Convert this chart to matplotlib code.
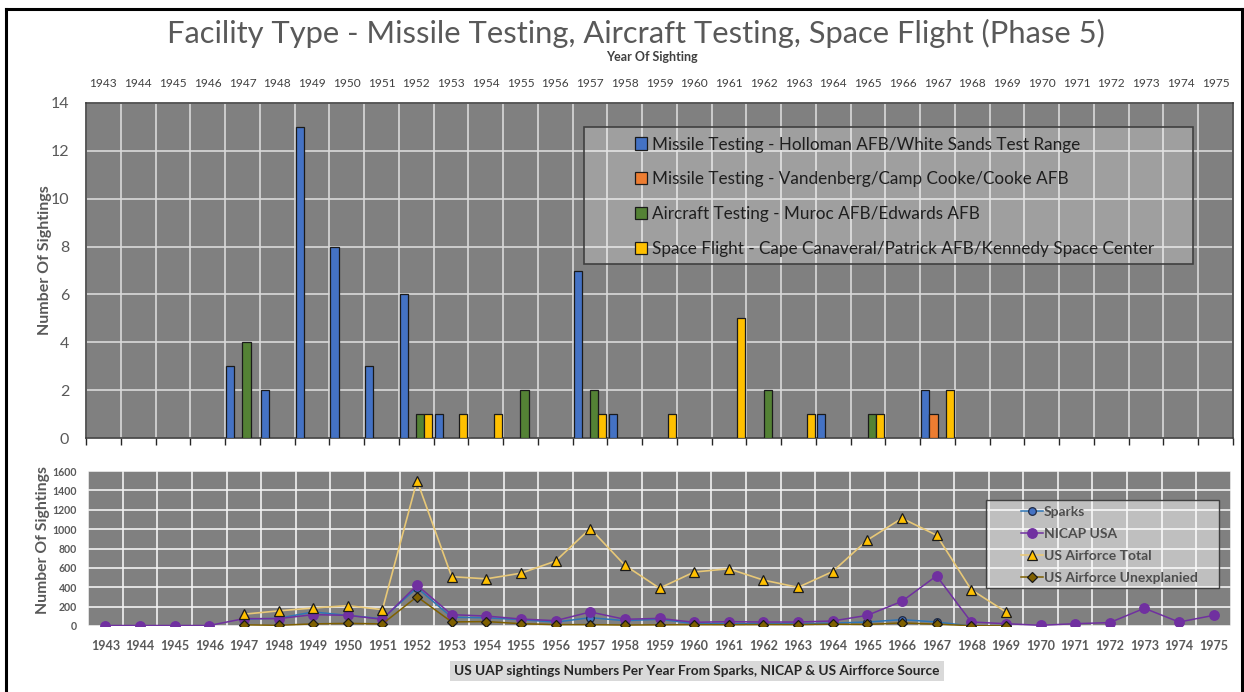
import numpy as np
import matplotlib.pyplot as plt
from matplotlib.patches import Rectangle
from matplotlib.lines import Line2D

plt.rcParams['font.family'] = ['Lato', 'DejaVu Sans']

years = list(range(1943, 1976))

# top chart: sightings near facility type
holloman = [0, 0, 0, 0, 3, 2, 13, 8, 3, 6, 1, 0, 0, 0, 7, 1, 0,
            0, 0, 0, 0, 1, 0, 0, 2, 0, 0, 0, 0, 0, 0, 0, 0]
vandenberg = [0, 0, 0, 0, 0, 0, 0, 0, 0, 0, 0, 0, 0, 0, 0, 0, 0,
              0, 0, 0, 0, 0, 0, 0, 1, 0, 0, 0, 0, 0, 0, 0, 0]
muroc = [0, 0, 0, 0, 4, 0, 0, 0, 0, 1, 0, 0, 2, 0, 2, 0, 0,
         0, 0, 2, 0, 0, 1, 0, 0, 0, 0, 0, 0, 0, 0, 0, 0]
canaveral = [0, 0, 0, 0, 0, 0, 0, 0, 0, 1, 1, 1, 0, 0, 1, 0, 1,
             0, 5, 0, 1, 0, 1, 0, 2, 0, 0, 0, 0, 0, 0, 0, 0]

bar_labels = [
    'Missile Testing - Holloman AFB/White Sands Test Range',
    'Missile Testing - Vandenberg/Camp Cooke/Cooke AFB',
    'Aircraft Testing - Muroc AFB/Edwards AFB',
    'Space Flight - Cape Canaveral/Patrick AFB/Kennedy Space Center',
]
bar_colors = ['#4472c4', '#ed7d31', '#548235', '#ffc000']

# bottom chart: yearly totals by source
nan = np.nan
sparks = [nan, nan, nan, nan, 70, 80, 145, 110, 75, 395, 90, 85, 65, 40, 86, 55, 70,
          24, 24, 24, 24, 30, 41, 66, 41, 0, 0, nan, nan, nan, nan, nan, nan]
nicap = [5, 5, 5, 5, 76, 76, 117, 110, 69, 421, 117, 103, 72, 55, 145, 69, 79,
         38, 45, 41, 41, 52, 110, 255, 518, 41, 24, 7, 24, 35, 183, 41, 110]
af_total = [nan, nan, nan, nan, 122, 156, 186, 210, 169, 1501, 509, 487, 545, 670, 1006, 627, 390,
            557, 591, 474, 399, 562, 887, 1112, 937, 375, 146, nan, nan, nan, nan, nan, nan]
af_unexplained = [nan, nan, nan, nan, 12, 7, 22, 27, 22, 303, 42, 46, 24, 14, 14, 10, 12,
                  14, 13, 15, 14, 19, 16, 32, 19, 3, 1, nan, nan, nan, nan, nan, nan]

W, H = 1244, 692
fig = plt.figure(figsize=(W / 100, H / 100), dpi=100)


def fx(px):
    return px / W


def fy(py):
    return 1 - py / H


GREY_TXT = '#595959'
x = np.arange(len(years))

# ---------------- top bar chart ----------------
ax = fig.add_axes([fx(86), fy(438), fx(1233) - fx(86), fy(103) - fy(438)])
ax.set_facecolor('#808080')
bw = 0.233
for k, (vals, col, lab) in enumerate(zip([holloman, vandenberg, muroc, canaveral], bar_colors, bar_labels)):
    ax.bar(x + (k - 1.5) * bw, vals, width=bw, color=col, edgecolor='#1a1a1a',
           linewidth=0.9, label=lab, zorder=3)

ax.set_xlim(-0.5, len(years) - 0.5)
ax.set_ylim(0, 14)
ax.set_yticks(range(0, 15, 2))
ax.set_xticks(x)
ax.set_xticklabels([str(y) for y in years])
ax.set_xticks(np.arange(-0.5, len(years) + 0.5, 1), minor=True)
ax.tick_params(axis='x', which='major', top=True, labeltop=True, bottom=False,
               labelbottom=False, length=0, labelsize=8.6, colors='#404040', pad=10)
ax.tick_params(axis='x', which='minor', bottom=True, top=False, length=5,
               width=1, color='#262626', direction='out')
ax.tick_params(axis='y', length=0, labelsize=11.5, labelcolor=GREY_TXT, pad=12)
ax.grid(True, axis='y', which='major', color='#d9d9d9', linewidth=1.2, zorder=0)
ax.grid(True, axis='x', which='minor', color='#d9d9d9', linewidth=1.2, zorder=0)
ax.set_axisbelow(True)
for s in ax.spines.values():
    s.set_color('#404040')
    s.set_linewidth(1.2)

fig.text(fx(45), fy(260), 'Number Of Sightings', rotation=90, ha='center', va='center',
         fontsize=11.5, fontweight='bold', color=GREY_TXT)
fig.text(fx(652), fy(57), 'Year Of Sighting', ha='center', va='center',
         fontsize=9, fontweight='bold', color='#404040')
fig.text(fx(636), fy(33), 'Facility Type - Missile Testing, Aircraft Testing, Space Flight (Phase 5)',
         ha='center', va='center', fontsize=22.2, color=GREY_TXT)

ax.add_patch(Rectangle((fx(584), fy(264)), fx(1193) - fx(584), fy(127) - fy(264),
                       transform=fig.transFigure, facecolor='white', alpha=0.25,
                       edgecolor='none', zorder=4))
ax.add_patch(Rectangle((fx(584), fy(264)), fx(1193) - fx(584), fy(127) - fy(264),
                       transform=fig.transFigure, facecolor='none',
                       edgecolor='#404040', linewidth=1.2, zorder=4))
leg = ax.legend(loc='upper left', bbox_to_anchor=(fx(626), fy(128)),
                bbox_transform=fig.transFigure, frameon=False, fontsize=12.3,
                borderpad=0, labelspacing=1.1, handlelength=0.72, handleheight=0.72,
                handletextpad=0.3, labelcolor='#1f1f1f')
leg.set_zorder(5)

# ---------------- bottom line chart ----------------
ax2 = fig.add_axes([fx(88), fy(626), fx(1231) - fx(88), fy(471) - fy(626)])
ax2.set_facecolor('#808080')
ax2.plot(x, sparks, color='#2e75b6', linewidth=1.1, marker='o', markersize=5.5,
         markerfacecolor='#4472c4', markeredgecolor='#1f2a44', markeredgewidth=0.9,
         label='Sparks', zorder=3)
ax2.plot(x, nicap, color='#7030a0', linewidth=1.1, marker='o', markersize=6.8,
         markerfacecolor='#7030a0', markeredgecolor='#7030a0', label='NICAP USA', zorder=4)
ax2.plot(x, af_total, color='#e8c877', linewidth=1.2, marker='^', markersize=6.5,
         markerfacecolor='#ffc000', markeredgecolor='#1a1a1a', markeredgewidth=0.9,
         label='US Airforce Total', zorder=5)
ax2.plot(x, af_unexplained, color='#7f6000', linewidth=1.1, marker='D', markersize=4.8,
         markerfacecolor='#7f6000', markeredgecolor='#1a1a1a', markeredgewidth=0.9,
         label='US Airforce Unexplanied', zorder=6)

ax2.set_xlim(-0.5, len(years) - 0.5)
ax2.set_ylim(0, 1600)
ax2.set_yticks(range(0, 1601, 200))
ax2.set_xticks(x)
ax2.set_xticklabels([str(y) for y in years])
ax2.set_xticks(np.arange(-0.5, len(years) + 0.5, 1), minor=True)
ax2.tick_params(axis='x', which='major', length=0, labelsize=9, labelcolor=GREY_TXT, pad=10)
ax2.tick_params(axis='x', which='minor', length=0)
ax2.tick_params(axis='y', length=0, labelsize=7.6, labelcolor=GREY_TXT, pad=8)
for lab in ax2.get_xticklabels() + ax2.get_yticklabels():
    lab.set_fontweight('bold')
ax2.grid(True, axis='y', which='major', color='#f2f2f2', linewidth=1.2, zorder=0)
ax2.grid(True, axis='x', which='minor', color='#f2f2f2', linewidth=1.2, zorder=0)
ax2.set_axisbelow(True)
for s in ax2.spines.values():
    s.set_visible(False)

fig.text(fx(43), fy(540), 'Number Of Sightings', rotation=90, ha='center', va='center',
         fontsize=11.3, fontweight='bold', color=GREY_TXT)
fig.text(fx(697), fy(671), 'US UAP sightings Numbers Per Year From Sparks, NICAP & US Airfforce Source',
         ha='center', va='center', fontsize=9.8, fontweight='bold', color='#262626',
         bbox=dict(boxstyle='square,pad=0.3', facecolor='#d9d9d9', edgecolor='none'))

ax2.add_patch(Rectangle((fx(986), fy(588)), fx(1219) - fx(986), fy(500) - fy(588),
                        transform=fig.transFigure, facecolor='white', alpha=0.5,
                        edgecolor='none', zorder=7))
ax2.add_patch(Rectangle((fx(986), fy(588)), fx(1219) - fx(986), fy(500) - fy(588),
                        transform=fig.transFigure, facecolor='none',
                        edgecolor='#404040', linewidth=1.0, zorder=7))
leg2 = ax2.legend(loc='upper left', bbox_to_anchor=(fx(1014), fy(499)),
                  bbox_transform=fig.transFigure, frameon=False,
                  prop={'weight': 'bold', 'size': 10},
                  borderpad=0, labelspacing=0.72, handlelength=1.6,
                  handletextpad=0.05, labelcolor='#4d4d4d')
leg2.set_zorder(8)

# outer frame of the picture
for xs, ys in [([6, 6], [9, 700]), ([6, 1242], [9, 9]), ([1242, 1242], [9, 700])]:
    fig.add_artist(Line2D([fx(v) for v in xs], [fy(v) for v in ys], color='black', linewidth=2.2))

fig.savefig('out.png', dpi=100, facecolor='white')
